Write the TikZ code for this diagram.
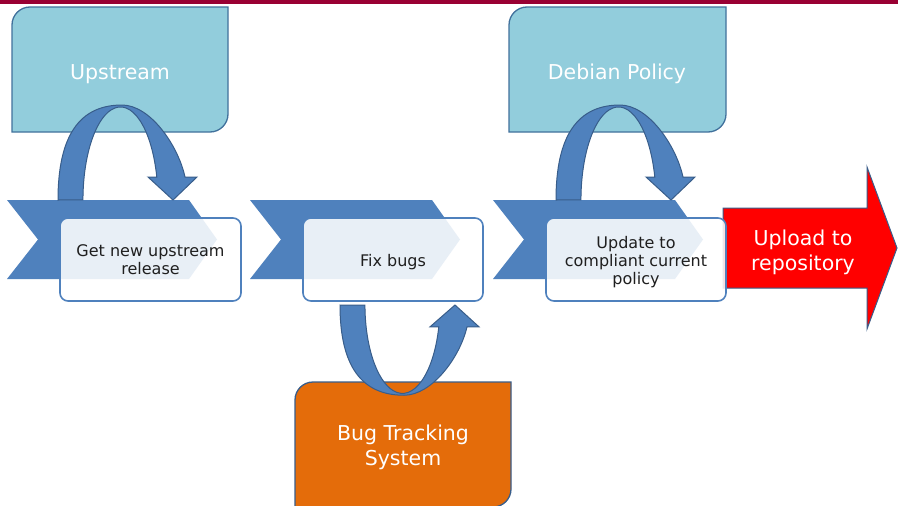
\documentclass[tikz,border=0pt]{standalone}
\usepackage{fontspec}
\setmainfont{DejaVu Sans}
\definecolor{topbar}{HTML}{990033}
\definecolor{lblue}{HTML}{92CDDC}
\definecolor{dborder}{HTML}{41719C}
\definecolor{chev}{HTML}{4F81BD}
\definecolor{arrb}{HTML}{385D8A}
\definecolor{orng}{HTML}{E46C0A}
\definecolor{redarr}{HTML}{FF0000}
\tikzset{
  sidebox/.style={fill=lblue, draw=dborder, line width=1.3pt},
  bugbox/.style={fill=orng, draw=arrb, line width=1.3pt},
  chevshape/.style={fill=chev},
  stepbox/.style={fill=white, fill opacity=0.875, draw=chev, line width=1.6pt},
  curvarr/.style={fill=chev, draw=arrb, line width=1pt},
  uploadarr/.style={fill=redarr, draw=arrb, line width=1pt},
  bigtext/.style={text=white, font=\fontsize{20.5}{25}\selectfont, align=center, inner sep=0pt},
  smalltext/.style={text=black!88, font=\fontsize{16}{18}\selectfont, align=center, inner sep=0pt},
}
\newcommand\twocornerbox[5]{%
  \path[#1] (#2,#5) -- (#2,#3+18) arc[start angle=180,end angle=270,radius=18]
    -- (#4,#3) -- (#4,#5-18) arc[start angle=0,end angle=90,radius=18] -- cycle;}
\newcommand\chevronat[1]{%
  \fill[chevshape] (#1,200) -- (#1+182,200) -- (#1+210,239.5) -- (#1+182,279)
    -- (#1,279) -- (#1+31,239.5) -- cycle;}
\newcommand\curvedarrow[3]{%
  \begin{scope}[shift={(#1,#2)}, yscale=#3]
    \draw[curvarr] (-63.5,0) .. controls (-63.5,-65) and (-41.5,-95) .. (0.5,-95)
      .. controls (28.5,-95) and (56.5,-55) .. (63.5,-23)
      -- (75.5,-23) -- (51.5,0) -- (26.5,-23) -- (35.3,-23)
      arc[start angle=345.7,end angle=180,x radius=37.5,y radius=93] -- cycle;
  \end{scope}}
\begin{document}
\begin{tikzpicture}[x=1pt,y=-1pt]
\useasboundingbox (0,0) rectangle (898,506);
\fill[white] (0,0) rectangle (898,506);
\fill[topbar] (0,0) rectangle (898,3.5);
% side boxes
\twocornerbox{sidebox}{12}{7}{228}{132}
\twocornerbox{sidebox}{509}{7}{726}{132}
\twocornerbox{bugbox}{295}{382}{511}{507}
% chevrons
\chevronat{7}
\chevronat{250}
\chevronat{493}
% curved arrows
\curvedarrow{121.5}{200}{1}
\curvedarrow{619.5}{200}{1}
\curvedarrow{403.5}{305}{-0.95}
% upload arrow
\draw[uploadarr] (723,208) -- (867,208) -- (867,167) -- (897,248) -- (867,329)
  -- (867,288) -- (723,288) -- cycle;
% step boxes
\draw[stepbox, rounded corners=8pt] (60,218) rectangle (241,301);
\draw[stepbox, rounded corners=8pt] (303,218) rectangle (483,301);
\draw[stepbox, rounded corners=8pt] (546,218) rectangle (726,301);
% texts
\node[bigtext] (up) at (120,74) {Upstream};
\node[bigtext] (deb) at (617,74) {Debian Policy};
\node[bigtext] (bts) at (403,447) {Bug Tracking\\System};
\node[bigtext] (upl) at (803,252.5) {Upload to\\repository};
\node[smalltext] (s1) at (150.5,259.5) {Get new upstream\\release};
\node[smalltext] (s2) at (393,262) {Fix bugs};
\node[smalltext] (s3) at (636,262) {Update to\\compliant current\\policy};
\end{tikzpicture}
\end{document}
